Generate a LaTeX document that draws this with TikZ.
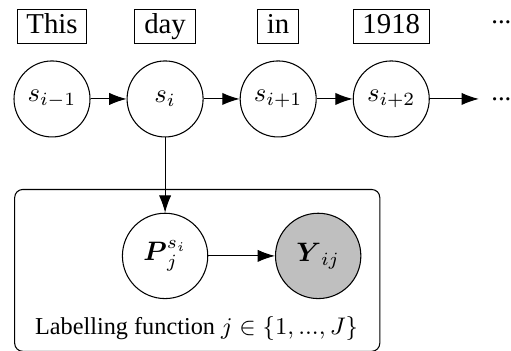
\documentclass[tikz,border=0pt]{standalone}
\usepackage{amsmath}
\usepackage[no-math]{fontspec}
\setmainfont{Liberation Serif}
\usetikzlibrary{arrows.meta, positioning, calc}

\begin{document}
\begin{tikzpicture}[
  node distance=13.5pt,
  state/.style={circle, draw, minimum size=28.5pt, inner sep=1pt},
  latent/.style={circle, draw, minimum size=32pt, inner sep=1pt},
  obs/.style={latent, fill=gray!50},
  word/.style={rectangle, draw, font=\fontsize{10.8pt}{13pt}\selectfont,
               text height=7.3pt, text depth=2.3pt, inner xsep=3.5pt, inner ysep=1.7pt},
  plate/.style={draw, rounded corners=3pt},
  arr/.style={-{Latex[length=6.5pt,width=4.6pt]}}
]
  \useasboundingbox (-19.5pt,-94.5pt) rectangle (172.1pt,37.1pt);

  % Hidden state chain
  \node[state] (s0) at (0,0) {$s_{i-1}$};
  \node[state, right=of s0] (s1) {$s_i$};
  \node[state, right=of s1] (s2) {$s_{i+1}$};
  \node[state, right=of s2] (s3) {$s_{i+2}$};
  \node[right=18.4pt of s3, inner xsep=4.5pt] (dots) {...};

  % Tokens above the states
  \node[word, above=6pt of s0] (w0) {This};
  \node[word, above=6pt of s1] (w1) {day};
  \node[word, above=6pt of s2] (w2) {in};
  \node[word, above=6pt of s3] (w3) {1918};
  \node[inner xsep=4.5pt, yshift=1.5pt] (wdots) at (dots |- w3) {...};

  \draw[arr] (s0) -- (s1);
  \draw[arr] (s1) -- (s2);
  \draw[arr] (s2) -- (s3);
  \draw[arr] (s3) -- (dots);

  % Labelling function plate
  \node[latent, below=28.2pt of s1] (P) {$\boldsymbol{P}^{s_i}_j$};
  \node[obs, right=25pt of P] (Y) {$\boldsymbol{Y}_{ij}$};
  \node[below=2.8pt of P, xshift=11.8pt, font=\fontsize{9.1pt}{11pt}\selectfont] (lab)
       {Labelling function $j \in \{1, ..., J\}$};
  \draw[plate] ($(lab.west |- P.north)+(-4.1pt,8.7pt)$)
    rectangle ($(Y.east |- lab.south)+(6.9pt,-0.7pt)$);

  \draw[arr] (s1) -- (P);
  \draw[arr] (P) -- (Y);

\end{tikzpicture}
\end{document}
